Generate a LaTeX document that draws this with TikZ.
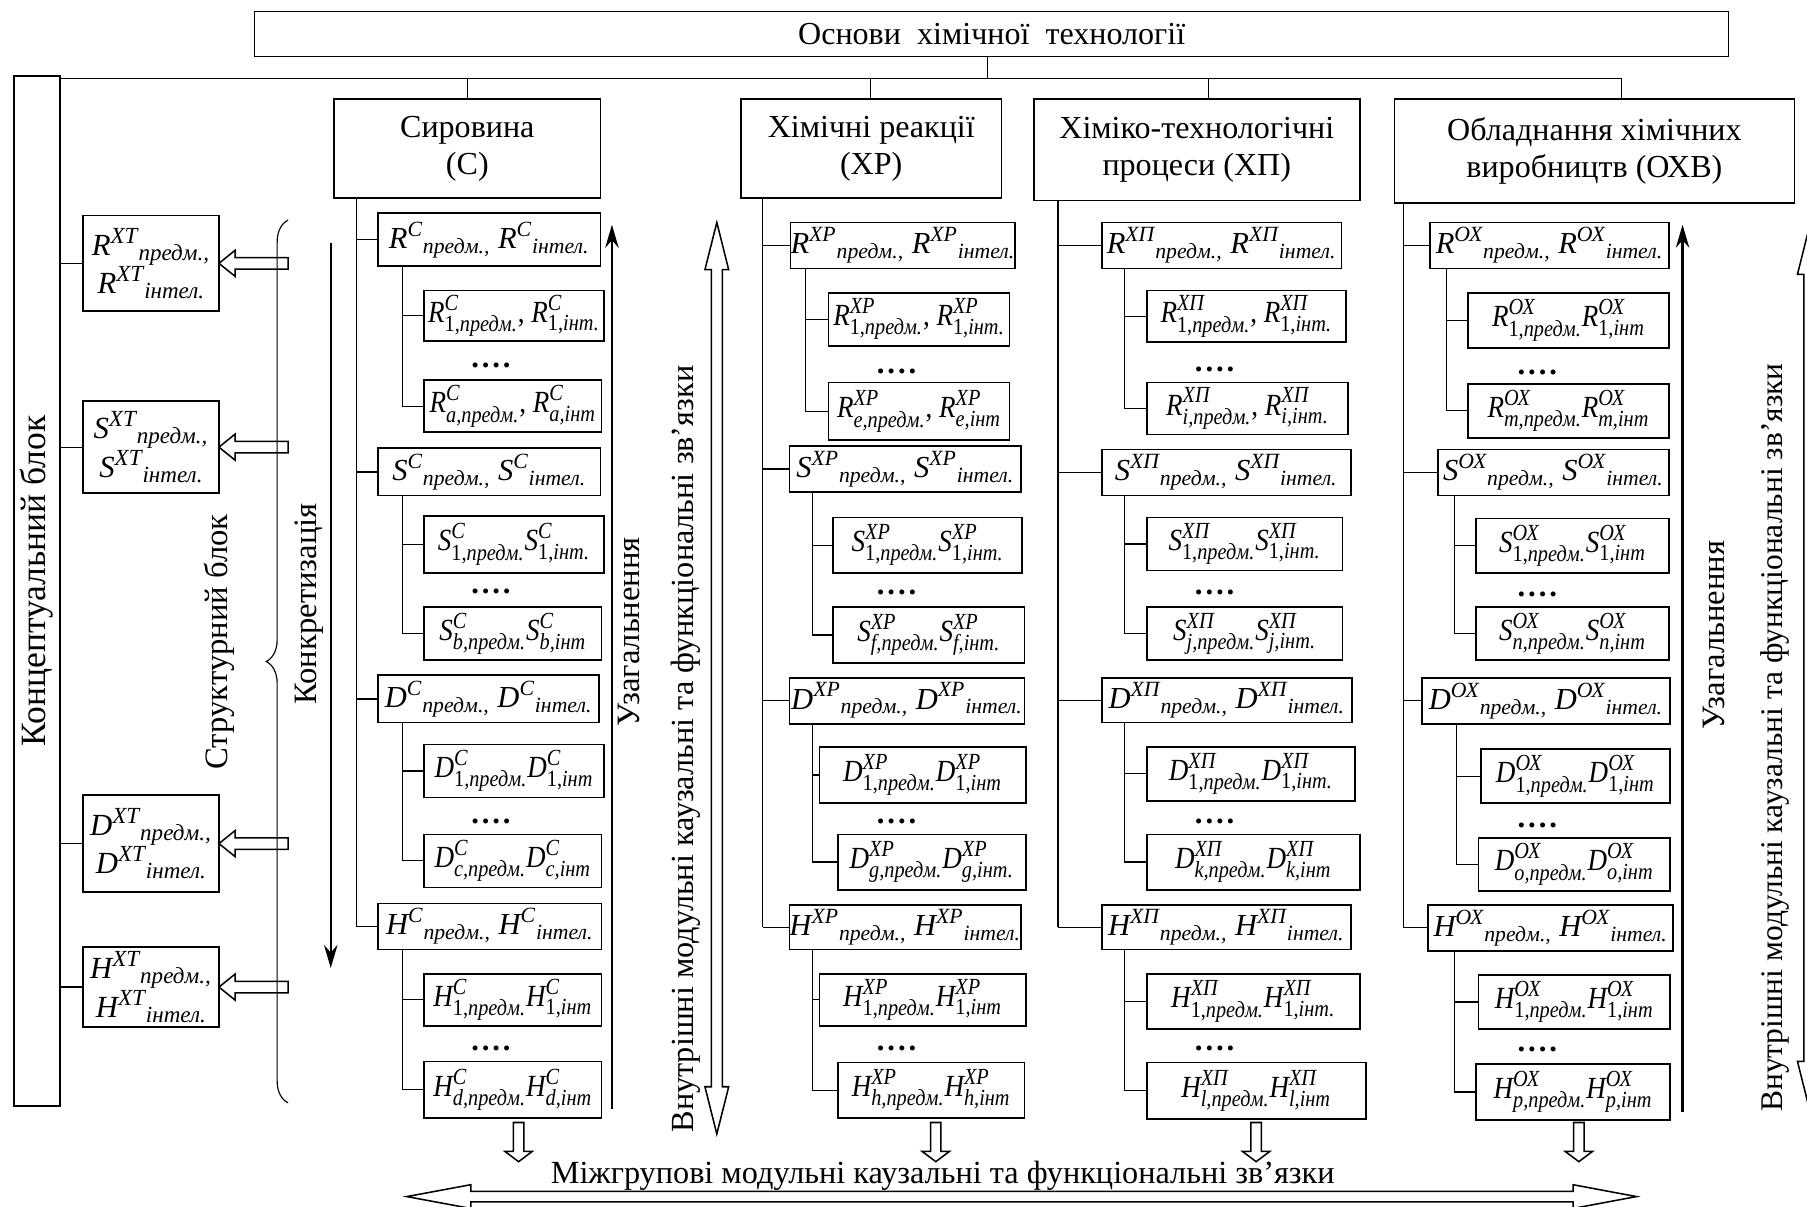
\documentclass[tikz,border=0pt]{standalone}
\usepackage{amsmath}
\usepackage{fontspec}
\setmainfont{Liberation Serif}
\newfontfamily\condfont{Liberation Serif}[FakeStretch=0.88]
\DeclareMathSizes{16}{16}{12}{9}
\DeclareMathSizes{15.9}{15.9}{11.3}{8}
\usetikzlibrary{arrows.meta,decorations.pathreplacing,calc}

\newcommand{\TL}[3]{$\text{\itshape #1}^{\text{\itshape #2}}{}_{\text{\itshape #3}}$}
\newcommand{\SL}[4]{$\text{\itshape #1}^{\text{\itshape #2}}_{\text{#3,\itshape #4}}$}
\newcommand{\bx}[7][]{%
  \pgfmathsetmacro\bw{(#5-#3)*0.6}%
  \pgfmathsetmacro\bh{(#6-#4)*0.6}%
  \node[box,minimum width=\bw pt,minimum height=\bh pt,#1] (#2) at ({(#3+#5)/2},{(#4+#6)/2}) {#7};}
\newcommand{\subtree}[4]{%
  \coordinate (st) at (#2,0);
  \draw[conn] (st |- #1.south) -- (st |- #4.west) -- (#4.west);
  \draw[conn] (st |- #3.west) -- (#3.west);}
\newcommand{\trunk}[6]{%
  \coordinate (tr) at (#2,0);
  \draw[conn] (tr |- #1.south) -- (tr |- #6.west);
  \foreach \c in {#3,#4,#5,#6} \draw[conn] (tr |- \c.west) -- (\c.west);}
\newcommand{\dotsn}[3]{\node[dotsty] (#1) at (#2,#3) {.\hspace{1.5pt}.\hspace{1.5pt}.\hspace{1.5pt}.};}
\newcommand{\larr}[1]{\draw[hol] (#1) -- ++(14,-11.3) -- ++(0,6.3) -- ++(46,0) -- ++(0,10) -- ++(-46,0) -- ++(0,6.3) -- cycle;}
\newcommand{\darr}[1]{\draw[hol] (#1) ++(-4.5,0) -- ++(0,25) -- ++(-7.5,0) -- ++(12,9) -- ++(12,-9) -- ++(-7.5,0) -- ++(0,-25) -- cycle;}
\newcommand{\vdarr}[3]{\draw[hol] (#1,#2) -- ({#1+10.3},{#2+41}) -- ({#1+4.8},{#2+41}) -- ({#1+4.8},{#3-41}) -- ({#1+10.3},{#3-41}) -- (#1,#3) -- ({#1-10.3},{#3-41}) -- ({#1-4.8},{#3-41}) -- ({#1-4.8},{#2+41}) -- ({#1-10.3},{#2+41}) -- cycle;}

\begin{document}
\begin{tikzpicture}[x=0.6pt,y=-0.6pt,
  box/.style={draw,line width=0.9pt,inner sep=0pt,outer sep=0pt,align=center},
  tb/.style={font=\fontsize{15.9}{19}\selectfont},
  mb/.style={font=\condfont\fontsize{16}{19}\selectfont},
  xb/.style={font=\fontsize{16}{20}\selectfont,align=left},
  hb/.style={line width=0.8pt,font=\fontsize{16.7}{19}\selectfont},
  conn/.style={line width=0.6pt},
  hol/.style={line width=0.8pt,line join=miter},
  tarr/.style={line width=1.2pt,-{Stealth[length=12pt,width=7pt]}},
  rot/.style={rotate=90,font=\fontsize{17}{20}\selectfont,inner sep=0pt},
  dotsty/.style={font=\bfseries\fontsize{16}{19}\selectfont,inner sep=0pt}]
\useasboundingbox (0,0) rectangle (1568,1047);
\clip (0,0) rectangle (1568,1047);

% title and headers
\bx[hb]{title}{221}{10}{1500}{49}{Основи\ \ хімічної\ \ технології}
\bx[hb]{sir}{290}{86}{521}{172}{Сировина\\(С)}
\bx[hb]{xr}{643}{86}{869}{172}{Хімічні реакції\\(ХР)}
\bx[hb]{xp}{897}{86}{1180}{174}{Хіміко-технологічні\\процеси (ХП)}
\bx[hb]{ohv}{1210}{86}{1557}{176}{Обладнання хімічних\\виробництв (ОХВ)}

% concept block
\bx{kbox}{12}{66}{52}{960}{}
\node[rot,font=\fontsize{18.5}{21}\selectfont] (konc) at (32,504) {Концептуальний блок};

% bus
\coordinate (busR) at (1407,68);
\draw[conn] (kbox.east |- busR) -- (busR);
\coordinate (d0) at (857,68); \draw[conn] (d0 |- title.south) -- (d0);
\coordinate (d1) at (406,68); \draw[conn] (d1) -- (d1 |- sir.north);
\coordinate (d2) at (755,68); \draw[conn] (d2) -- (d2 |- xr.north);
\coordinate (d3) at (1049,68); \draw[conn] (d3) -- (d3 |- xp.north);
\draw[conn] (busR) -- (busR |- ohv.north);

% XT boxes
\bx[xb]{RXT}{72}{187}{190}{270}{\TL{R}{ХТ}{предм.,}\\\hspace{3pt}\TL{R}{ХТ}{інтел.}}
\bx[xb]{SXT}{72}{348}{190}{428}{\TL{S}{ХТ}{предм.,}\\\hspace{3pt}\TL{S}{ХТ}{інтел.}}
\bx[xb]{DXT}{72}{690}{190}{774}{\TL{D}{ХТ}{предм.,}\\\hspace{3pt}\TL{D}{ХТ}{інтел.}}
\bx[xb]{HXT}{72}{822}{190}{891}{\TL{H}{ХТ}{предм.,}\\\hspace{3pt}\TL{H}{ХТ}{інтел.}}
\foreach \n in {RXT,SXT,DXT,HXT} \draw[conn] (kbox.east |- \n.west) -- (\n.west);

% brace and its arrows
\draw[conn,decorate,decoration={brace,amplitude=11.4pt}] (250,957) -- (250,191);
\node[rot] (strb) at (190,557) {Структурний блок};
\foreach \n in {RXT,SXT,DXT,HXT} {\larr{\n.east}}

% concretization arrow
\node[rot] (konk) at (268,524) {Конкретизація};
\coordinate (ka) at (287,211); \coordinate (kb) at (287,840);
\draw[tarr] (ka) -- (kb);

% ---------- column C ----------
\bx[tb]{CR}{328}{185}{521}{231}{\TL{R}{С}{предм.,} \TL{R}{С}{інтел.}}
\bx[mb]{CR1}{368}{252}{524}{296}{\SL{R}{С}{1}{предм.}, \SL{R}{С}{1}{інт.}}
\bx[mb]{CR2}{368}{330}{522}{375}{\SL{R}{С}{\itshape a}{предм.}, \SL{R}{С}{\itshape a}{інт}}
\bx[tb]{CS}{328}{389}{521}{430}{\TL{S}{С}{предм.,} \TL{S}{С}{інтел.}}
\bx[mb]{CS1}{368}{448}{524}{497}{\SL{S}{С}{1}{предм.}\SL{S}{С}{1}{інт.}}
\bx[mb]{CS2}{368}{527}{522}{573}{\SL{S}{С}{\itshape b}{предм.}\SL{S}{С}{\itshape b}{інт}}
\bx[tb]{CD}{328}{586}{520}{627}{\TL{D}{С}{предм.,} \TL{D}{С}{інтел.}}
\bx[mb]{CD1}{368}{646}{524}{692}{\SL{D}{С}{1}{предм.}\SL{D}{С}{1}{інт}}
\bx[mb]{CD2}{368}{724}{522}{770}{\SL{D}{С}{\itshape c}{предм.}\SL{D}{С}{\itshape c}{інт}}
\bx[tb]{CH}{328}{784}{522}{824}{\TL{H}{С}{предм.,} \TL{H}{С}{інтел.}}
\bx[mb]{CH1}{368}{845}{522}{890}{\SL{H}{С}{1}{предм.}\SL{H}{С}{1}{інт}}
\bx[mb]{CH2}{368}{921}{522}{970}{\SL{H}{С}{\itshape d}{предм.}\SL{H}{С}{\itshape d}{інт}}
\dotsn{CRd}{426}{317}\dotsn{CSd}{426}{513}\dotsn{CDd}{426}{713}\dotsn{CHd}{426}{910}
\trunk{sir}{309}{CR}{CS}{CD}{CH}
\subtree{CR}{349}{CR1}{CR2}
\subtree{CS}{349}{CS1}{CS2}
\subtree{CD}{349}{CD1}{CD2}
\subtree{CH}{349}{CH1}{CH2}
\coordinate (ua) at (531,962); \coordinate (ub) at (531,195);
\draw[tarr] (ua) -- (ub);
\node[rot] (uzC) at (546,548) {Узагальнення};

% inner links (left)
\vdarr{622}{193}{984}
\node[rot,font=\fontsize{16.8}{20}\selectfont] (vnL) at (595,650) {Внутрішні модульні каузальні та функціональні зв’язки};

% ---------- column XP ----------
\bx[tb]{PR}{686}{193}{881}{233}{\TL{R}{ХР}{предм.,} \TL{R}{ХР}{інтел.}}
\bx[mb]{PR1}{719}{254}{876}{300}{\SL{R}{ХР}{1}{предм.}, \SL{R}{ХР}{1}{інт.}}
\bx[mb]{PR2}{719}{332}{876}{382}{\SL{R}{ХР}{\itshape e}{предм.}, \SL{R}{ХР}{\itshape e}{інт}}
\bx[tb]{PS}{685}{387}{886}{427}{\TL{S}{ХР}{предм.,} \TL{S}{ХР}{інтел.}}
\bx[mb]{PS1}{723}{449}{887}{497}{\SL{S}{ХР}{1}{предм.}\SL{S}{ХР}{1}{інт.}}
\bx[mb]{PS2}{723}{527}{889}{575}{\SL{S}{ХР}{\itshape f}{предм.}\SL{S}{ХР}{\itshape f}{інт.}}
\bx[tb]{PD}{685}{588}{889}{628}{\TL{D}{ХР}{предм.,} \TL{D}{ХР}{інтел.}}
\bx[mb]{PD1}{711}{648}{890}{697}{\SL{D}{ХР}{1}{предм.}\SL{D}{ХР}{1}{інт}}
\bx[mb]{PD2}{727}{724}{890}{772}{\SL{D}{ХР}{\itshape g}{предм.}\SL{D}{ХР}{\itshape g}{інт.}}
\bx[tb]{PH}{685}{785}{886}{824}{\TL{H}{ХР}{предм.,} \TL{H}{ХР}{інтел.}}
\bx[mb]{PH1}{711}{845}{890}{890}{\SL{H}{ХР}{1}{предм.}\SL{H}{ХР}{1}{інт}}
\bx[mb]{PH2}{727}{922}{889}{970}{\SL{H}{ХР}{\itshape h}{предм.}\SL{H}{ХР}{\itshape h}{інт}}
\dotsn{PRd}{778}{322}\dotsn{PSd}{778}{514}\dotsn{PDd}{778}{713}\dotsn{PHd}{778}{910}
\trunk{xr}{662}{PR}{PS}{PD}{PH}
\subtree{PR}{699}{PR1}{PR2}
\subtree{PS}{705}{PS1}{PS2}
\subtree{PD}{705}{PD1}{PD2}
\subtree{PH}{705}{PH1}{PH2}

% ---------- column XП ----------
\bx[tb]{QR}{956}{193}{1164}{233}{\TL{R}{ХП}{предм.,} \TL{R}{ХП}{інтел.}}
\bx[mb]{QR1}{995}{252}{1168}{297}{\SL{R}{ХП}{1}{предм.}, \SL{R}{ХП}{1}{інт.}}
\bx[mb]{QR2}{995}{332}{1170}{377}{\SL{R}{ХП}{\itshape i}{предм.}, \SL{R}{ХП}{\itshape i}{інт.}}
\bx[tb]{QS}{956}{390}{1172}{430}{\TL{S}{ХП}{предм.,} \TL{S}{ХП}{інтел.}}
\bx[mb]{QS1}{995}{449}{1165}{495}{\SL{S}{ХП}{1}{предм.}\SL{S}{ХП}{1}{інт.}}
\bx[mb]{QS2}{995}{527}{1165}{573}{\SL{S}{ХП}{\itshape j}{предм.}\SL{S}{ХП}{\itshape j}{інт.}}
\bx[tb]{QD}{956}{588}{1173}{627}{\TL{D}{ХП}{предм.,} \TL{D}{ХП}{інтел.}}
\bx[mb]{QD1}{995}{648}{1176}{695}{\SL{D}{ХП}{1}{предм.}\SL{D}{ХП}{1}{інт.}}
\bx[mb]{QD2}{995}{724}{1180}{772}{\SL{D}{ХП}{\itshape k}{предм.}\SL{D}{ХП}{\itshape k}{інт}}
\bx[tb]{QH}{956}{785}{1172}{824}{\TL{H}{ХП}{предм.,} \TL{H}{ХП}{інтел.}}
\bx[mb]{QH1}{995}{845}{1180}{893}{\SL{H}{ХП}{1}{предм.}\SL{H}{ХП}{1}{інт.}}
\bx[mb]{QH2}{995}{922}{1185}{971}{\SL{H}{ХП}{\itshape l}{предм.}\SL{H}{ХП}{\itshape l}{інт}}
\dotsn{QRd}{1054}{321}\dotsn{QSd}{1054}{514}\dotsn{QDd}{1054}{713}\dotsn{QHd}{1054}{910}
\trunk{xp}{918}{QR}{QS}{QD}{QH}
\subtree{QR}{976}{QR1}{QR2}
\subtree{QS}{976}{QS1}{QS2}
\subtree{QD}{976}{QD1}{QD2}
\subtree{QH}{976}{QH1}{QH2}

% ---------- column OX ----------
\bx[tb]{OR}{1241}{193}{1448}{233}{\TL{R}{ОХ}{предм.,} \TL{R}{ОХ}{інтел.}}
\bx[mb]{OR1}{1274}{254}{1448}{302}{\SL{R}{ОХ}{1}{предм.}\SL{R}{ОХ}{1}{інт}}
\bx[mb]{OR2}{1274}{333}{1448}{380}{\SL{R}{ОХ}{\itshape m}{предм.}\SL{R}{ОХ}{\itshape m}{інт}}
\bx[tb]{OS}{1248}{390}{1448}{430}{\TL{S}{ОХ}{предм.,} \TL{S}{ОХ}{інтел.}}
\bx[mb]{OS1}{1281}{450}{1448}{497}{\SL{S}{ОХ}{1}{предм.}\SL{S}{ОХ}{1}{інт}}
\bx[mb]{OS2}{1281}{527}{1448}{573}{\SL{S}{ОХ}{\itshape n}{предм.}\SL{S}{ОХ}{\itshape n}{інт}}
\bx[tb]{OD}{1234}{588}{1449}{628}{\TL{D}{ОХ}{предм.,} \TL{D}{ОХ}{інтел.}}
\bx[mb]{OD1}{1285}{650}{1449}{697}{\SL{D}{ОХ}{1}{предм.}\SL{D}{ОХ}{1}{інт}}
\bx[mb]{OD2}{1283}{727}{1449}{773}{\SL{D}{ОХ}{\itshape o}{предм.}\SL{D}{ОХ}{\itshape o}{інт}}
\bx[tb]{OH}{1239}{785}{1452}{825}{\TL{H}{ОХ}{предм.,} \TL{H}{ОХ}{інтел.}}
\bx[mb]{OH1}{1283}{846}{1449}{893}{\SL{H}{ОХ}{1}{предм.}\SL{H}{ОХ}{1}{інт}}
\bx[mb]{OH2}{1281}{923}{1449}{972}{\SL{H}{ОХ}{\itshape p}{предм.}\SL{H}{ОХ}{\itshape p}{інт}}
\dotsn{ORd}{1334}{323}\dotsn{OSd}{1334}{516}\dotsn{ODd}{1334}{716}\dotsn{OHd}{1334}{911}
\trunk{ohv}{1218}{OR}{OS}{OD}{OH}
\subtree{OR}{1255}{OR1}{OR2}
\subtree{OS}{1262}{OS1}{OS2}
\subtree{OD}{1264}{OD1}{OD2}
\subtree{OH}{1262}{OH1}{OH2}
\coordinate (oa) at (1460,965); \coordinate (ob) at (1460,195);
\draw[tarr] (oa) -- (ob);
\node[rot] (uzO) at (1487,551) {Узагальнення};

% inner links (right)
\vdarr{1570}{197}{962}
\node[rot,font=\fontsize{16.4}{20}\selectfont] (vnR) at (1540,640) {Внутрішні модульні каузальні та функціональні зв’язки};

% down arrows
\darr{$(CH2.south)+(5,4)$}
\darr{$(PH2.south)+(4,4)$}
\darr{$(QH2.south)+(0,3)$}
\darr{$(OH2.south)+(5,2)$}

% inter-group links
\node[anchor=base,font=\fontsize{16.8}{19}\selectfont,inner sep=0pt] (mizh) at (818,1026.7) {Міжгрупові модульні каузальні та функціональні зв’язки};
\draw[hol] (353,1038.3) -- (408.5,1028) -- (408.5,1033.7) -- (1365,1033.7) -- (1365,1028) -- (1420,1038.3) -- (1365,1048.6) -- (1365,1042.9) -- (408.5,1042.9) -- (408.5,1048.6) -- cycle;
\end{tikzpicture}
\end{document}
